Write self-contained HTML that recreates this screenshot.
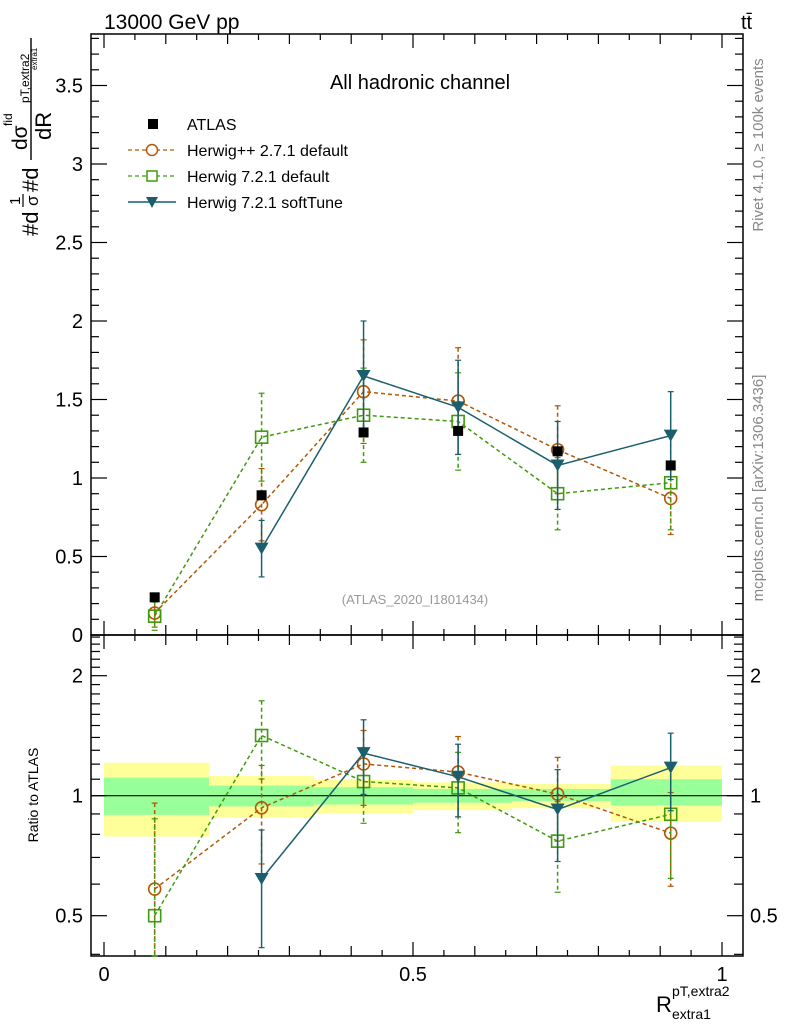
<!DOCTYPE html>
<html><head><meta charset="utf-8"><style>
body{margin:0;background:#fff}
svg{display:block;font-family:"Liberation Sans",sans-serif}
</style></head><body>
<svg id="c" width="786" height="1024" viewBox="0 0 786 1024">
<g id="bands"></g>
<g id="axes"></g>
<g id="series"></g>
<text x="104" y="29" font-size="21">13000 GeV pp</text>
<text x="741" y="29" font-size="20">tt̄</text>
<text x="420" y="89" font-size="20" text-anchor="middle">All hadronic channel</text>
<text x="415" y="604" font-size="13" fill="#999" text-anchor="middle">(ATLAS_2020_I1801434)</text>
<text transform="translate(763,145) rotate(-90)" font-size="15" fill="#888" text-anchor="middle">Rivet 4.1.0, ≥ 100k events</text>
<text transform="translate(763,488) rotate(-90)" font-size="15" fill="#888" text-anchor="middle">mcplots.cern.ch [arXiv:1306.3436]</text>
<text transform="translate(38,795) rotate(-90)" font-size="14" text-anchor="middle">Ratio to ATLAS</text>
<g transform="rotate(-90)">
<text x="-236" y="38" font-size="22">#d</text>
<text x="-205" y="20" font-size="15">1</text>
<line x1="-207" y1="23" x2="-194" y2="23" stroke="#000" stroke-width="1.2"/>
<text x="-206" y="38" font-size="17">σ</text>
<text x="-192" y="38" font-size="22">#d</text>
<text x="-150" y="27" font-size="21">dσ</text>
<text x="-126" y="12" font-size="12">fid</text>
<line x1="-160" y1="31" x2="-38" y2="31" stroke="#000" stroke-width="1.4"/>
<text x="-140" y="51" font-size="22">dR</text>
<text x="-103" y="29" font-size="12">pT,extra2</text>
<text x="-70" y="37" font-size="8">extra1</text>
</g>
<g>
<text x="656" y="1012" font-size="22">R</text>
<text x="672" y="996" font-size="14">pT,extra2</text>
<text x="672" y="1019" font-size="14">extra1</text>
</g>
<g font-size="16">
<rect x="148" y="119" width="10" height="10" fill="#000"/>
<text x="187" y="130">ATLAS</text>
<line x1="128" y1="150" x2="176" y2="150" stroke="#b35806" stroke-dasharray="4,3" stroke-width="1.3"/>
<circle cx="152" cy="150" r="5.5" fill="#fff" stroke="#b35806" stroke-width="1.5"/>
<text x="187" y="156">Herwig++ 2.7.1 default</text>
<line x1="128" y1="176" x2="176" y2="176" stroke="#3f9a0e" stroke-dasharray="4,3" stroke-width="1.3"/>
<rect x="147" y="171" width="10" height="10" fill="#fff" stroke="#3f9a0e" stroke-width="1.5"/>
<text x="187" y="182">Herwig 7.2.1 default</text>
<line x1="128" y1="202" x2="176" y2="202" stroke="#1b5e6e" stroke-width="1.5"/>
<path d="M146,197 L158,197 L152,208 Z" fill="#1b5e6e"/>
<text x="187" y="208">Herwig 7.2.1 softTune</text>
</g>
</svg>
<script>
const edges=[0,0.17,0.34,0.5,0.66,0.82,1];
const xs=[0.082,0.255,0.42,0.573,0.734,0.917];
const atlas=[0.24,0.89,1.29,1.30,1.17,1.08];
const atlasErr=[0.01,0.01,0.01,0.01,0.01,0.01];
const hpp=[0.14,0.83,1.55,1.49,1.18,0.87];
const hppErr=[0.09,0.23,0.33,0.34,0.28,0.23];
const h72=[0.12,1.26,1.40,1.36,0.90,0.97];
const h72Err=[0.09,0.28,0.30,0.31,0.23,0.30];
const soft=[null,0.55,1.65,1.45,1.08,1.27];
const softErr=[null,0.18,0.35,0.30,0.28,0.28];
const bandInLo=[0.895,0.94,0.95,0.96,0.97,0.945];
const bandInHi=[1.11,1.06,1.05,1.04,1.04,1.10];
const bandOutLo=[0.79,0.88,0.905,0.92,0.93,0.86];
const bandOutHi=[1.21,1.12,1.095,1.08,1.07,1.19];
const yTicks=[0,0.5,1,1.5,2,2.5,3,3.5];
const yTickLabels=["0","0.5","1","1.5","2","2.5","3","3.5"];
const rTicks=[0.5,1,2];
const rTickLabels=["0.5","1","2"];
const xTicks=[0,0.5,1];
const xTickLabels=["0","0.5","1"];

const L=91,R=743,T=34,M=635,B=956;
const X=v=>104+v*618;
const Y=v=>635-v*157;
const RY=v=>795.7-Math.log2(v)*120;
const NS="http://www.w3.org/2000/svg";
function mk(par,tag,at){const e=document.createElementNS(NS,tag);for(const k in at)e.setAttribute(k,at[k]);document.getElementById(par).appendChild(e);return e;}

for(let i=0;i<6;i++){
 const a=mk('bands','rect',{x:X(edges[i]),y:RY(bandOutHi[i]),width:X(edges[i+1])-X(edges[i]),height:RY(bandOutLo[i])-RY(bandOutHi[i]),fill:'#ffff99'});
 
 
 const b=mk('bands','rect',{x:X(edges[i]),y:RY(bandInHi[i]),width:X(edges[i+1])-X(edges[i]),height:RY(bandInLo[i])-RY(bandInHi[i]),fill:'#99ff99'});
 
 
}
const ax='axes';
mk(ax,'rect',{x:L,y:T,width:R-L,height:M-T,fill:'none',stroke:'#000','stroke-width':1.5});
mk(ax,'rect',{x:L,y:M,width:R-L,height:B-M,fill:'none',stroke:'#000','stroke-width':1.5});
mk(ax,'line',{x1:L,y1:RY(1),x2:R,y2:RY(1),stroke:'#000','stroke-width':1.2});
for(let k=0;k<=20;k++){const v=k*0.05;const x=X(v);if(x>R)break;const len=(k%2==0)?(k%10==0?14:10):6;
 [[M,-1],[T,1],[B,-1],[M,1]].forEach(([y0,d])=>mk(ax,'line',{x1:x,y1:y0,x2:x,y2:y0+d*len,stroke:'#000','stroke-width':1.2}));}
for(let k=0;k<=38;k++){const v=k*0.1;const y=Y(v);if(y<T)break;const len=(k%5==0)?16:8;
 mk(ax,'line',{x1:L,y1:y,x2:L+len,y2:y,stroke:'#000','stroke-width':1.2});
 mk(ax,'line',{x1:R,y1:y,x2:R-len,y2:y,stroke:'#000','stroke-width':1.2});}
[0.4,0.5,0.6,0.7,0.8,0.9,1,2,2.1,2.2,2.3,2.4,2.5].concat([1.1,1.2,1.3,1.4,1.5,1.6,1.7,1.8,1.9]).forEach(v=>{const y=RY(v);if(y<M||y>B)return;const len=(v==0.5||v==1||v==2)?16:9;
 mk(ax,'line',{x1:L,y1:y,x2:L+len,y2:y,stroke:'#000','stroke-width':1.2});
 mk(ax,'line',{x1:R,y1:y,x2:R-len,y2:y,stroke:'#000','stroke-width':1.2});});
yTicks.forEach((v,i)=>{const t=mk(ax,'text',{x:83,y:Y(v)+7,'font-size':20,'text-anchor':'end'});t.textContent=yTickLabels[i];
 
 });
rTicks.forEach((v,i)=>{[[83,'end'],[750,'start']].forEach(([x,a])=>{const t=mk(ax,'text',{x:x,y:RY(v)+7,'font-size':20,'text-anchor':a});t.textContent=rTickLabels[i];
 
 });});
xTicks.forEach((v,i)=>{const t=mk(ax,'text',{x:X(v),y:981,'font-size':20,'text-anchor':'middle'});t.textContent=xTickLabels[i];
 
 });

function series(vals,errs,ratio,color,dash,marker,name){
 const Yf=ratio?RY:Y;
 const pts=[];
 vals.forEach((v,i)=>{if(v==null)return;let c=v,e=errs[i];if(ratio){c=v/atlas[i];e=errs[i]/atlas[i];}
  let y=Yf(c),y1=Yf(c+e),y2=ratio?(c-e>0?Yf(c-e):B):Yf(Math.max(c-e,0));
  const lo=ratio?M:T,hi=ratio?B:M;y1=Math.max(y1,lo);y2=Math.min(y2,hi);
  pts.push([X(xs[i]),y]);
  const el=mk('series','line',{x1:X(xs[i]),y1:y1,x2:X(xs[i]),y2:y2,stroke:color,'stroke-width':1.5,'stroke-dasharray':dash});
  
  
  [y1,y2].forEach(yy=>mk('series','line',{x1:X(xs[i])-3,y1:yy,x2:X(xs[i])+3,y2:yy,stroke:color,'stroke-width':1.2}));
 });
 const pl=mk('series','polyline',{points:pts.map(p=>p.join(',')).join(' '),fill:'none',stroke:color,'stroke-width':1.5,'stroke-dasharray':dash});
 
 
 pts.forEach(([x,y])=>{if(y<(ratio?M:T)||y>(ratio?B:M))return;let m;
  if(marker=='c')m=mk('series','circle',{cx:x,cy:y,r:6,fill:'none',stroke:color,'stroke-width':1.6});
  else if(marker=='s')m=mk('series','rect',{x:x-6,y:y-6,width:12,height:12,fill:'none',stroke:color,'stroke-width':1.6});
  else if(marker=='t')m=mk('series','path',{d:`M${x-7},${y-6} L${x+7},${y-6} L${x},${y+6} Z`,fill:color});
  else m=mk('series','rect',{x:x-5,y:y-5,width:10,height:10,fill:color});
  
  });
}
[false,true].forEach(r=>{
 series(hpp,hppErr,r,'#b35806','4,3','c','herwigpp-271');
 series(h72,h72Err,r,'#3f9a0e','4,3','s','herwig-721-default');
 series(soft,softErr,r,'#1b5e6e','none','t','herwig-721-softtune');
});
atlas.forEach((v,i)=>{const m=mk('series','rect',{x:X(xs[i])-5,y:Y(v)-5,width:10,height:10,fill:'#000'});
 
 });
</script>
</body></html>
